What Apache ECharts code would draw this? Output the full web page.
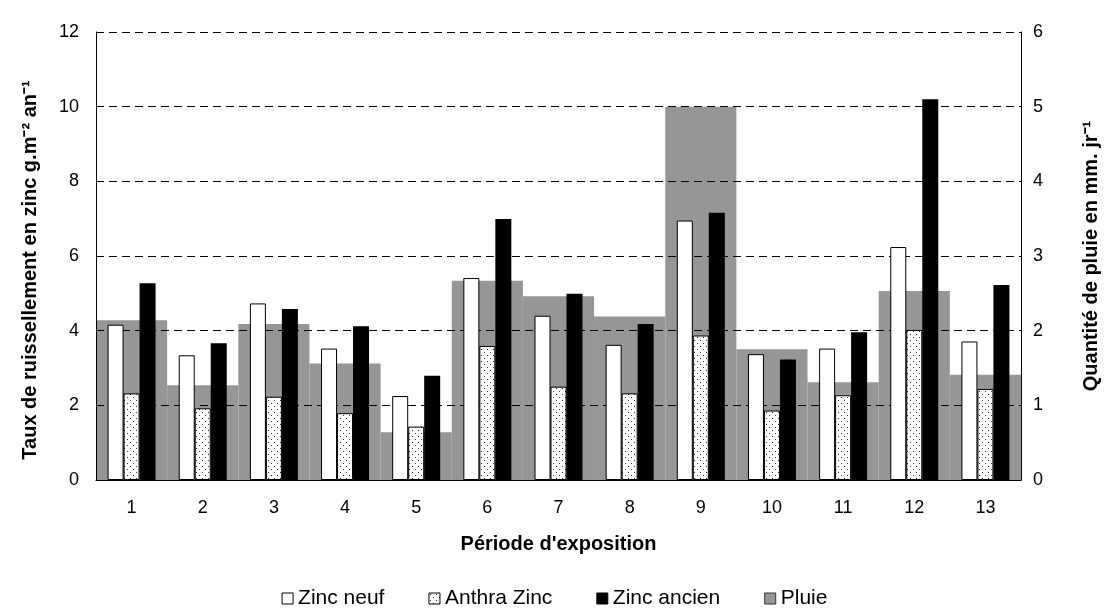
<!DOCTYPE html>
<html>
<head>
<meta charset="utf-8">
<script src="https://cdn.jsdelivr.net/npm/echarts@6/dist/echarts.min.js"></script>
<style>
html, body { margin: 0; padding: 0; background: #fff; }
#chart { width: 1109px; height: 610px; }
</style>
</head>
<body>
<div id="chart"></div>
<script>
// periodes d'exposition
var periodes = ['1', '2', '3', '4', '5', '6', '7', '8', '9', '10', '11', '12', '13'];

// taux de ruissellement (g.m-2 an-1)
var zincNeuf   = [4.16, 3.34, 4.73, 3.52, 2.25, 5.41, 4.40, 3.62, 6.95, 3.37, 3.52, 6.24, 3.71];
var anthraZinc = [2.32, 1.92, 2.23, 1.79, 1.43, 3.59, 2.50, 2.32, 3.87, 1.86, 2.27, 4.02, 2.44];
var zincAncien = [5.27, 3.66, 4.58, 4.12, 2.79, 6.99, 4.99, 4.18, 7.16, 3.23, 3.96, 10.2, 5.22];

// pluie (mm.jr-1)
var pluie = [2.14, 1.27, 2.09, 1.56, 0.64, 2.67, 2.46, 2.19, 5.0, 1.75, 1.31, 2.53, 1.41];

function dotPattern() {
    var c = document.createElement('canvas');
    c.width = 6;
    c.height = 6;
    var ctx = c.getContext('2d');
    ctx.fillStyle = '#fff';
    ctx.fillRect(0, 0, 6, 6);
    ctx.fillStyle = '#333';
    ctx.fillRect(1, 1, 1, 1);
    ctx.fillRect(4, 4, 1, 1);
    return { image: c, repeat: 'repeat' };
}

window.onload = function () {
    var myChart = echarts.init(document.getElementById('chart'));
    var font = 'Liberation Sans, Arial, sans-serif';
    var pattern = dotPattern();

    var option = {
        animation: false,
        textStyle: { fontFamily: font, color: '#000' },
        grid: { left: 96, right: 84, top: 32, bottom: 130 },
        legend: {
            top: 583,
            left: 'center',
            icon: 'rect',
            itemWidth: 11,
            itemHeight: 11,
            itemGap: 44,
            textStyle: { fontSize: 21, fontFamily: font, color: '#000' },
            data: [
                { name: 'Zinc neuf', itemStyle: { color: '#fff', borderColor: '#000', borderWidth: 1 } },
                { name: 'Anthra Zinc', itemStyle: { color: pattern, borderColor: '#000', borderWidth: 1 } },
                { name: 'Zinc ancien', itemStyle: { color: '#000', borderColor: '#000', borderWidth: 1 } },
                { name: 'Pluie', itemStyle: { color: '#969696', borderColor: '#333', borderWidth: 1 } }
            ]
        },
        xAxis: [
            {
                type: 'category',
                data: periodes,
                name: "Période d'exposition",
                nameLocation: 'middle',
                nameGap: 54,
                nameTextStyle: { fontSize: 20, fontWeight: 'bold', color: '#000' },
                axisLine: { lineStyle: { color: '#000', width: 1 } },
                axisTick: { length: 6, lineStyle: { color: '#000' } },
                axisLabel: { fontSize: 18, color: '#000', margin: 19 }
            },
            {
                type: 'category',
                data: periodes,
                show: false
            }
        ],
        yAxis: [
            {
                type: 'value',
                min: 0,
                max: 12,
                interval: 2,
                z: 1,
                name: 'Taux de ruissellement en zinc g.m⁻² an⁻¹',
                nameLocation: 'middle',
                nameRotate: 90,
                nameGap: 56,
                nameTextStyle: { fontSize: 20, fontWeight: 'bold', color: '#000', padding: [0, 28, 0, 0] },
                axisLine: { show: true, lineStyle: { color: '#000' } },
                axisTick: { show: false },
                axisLabel: { fontSize: 18, color: '#000', margin: 17 },
                splitLine: { lineStyle: { color: '#000', type: [8, 5], width: 1 } }
            },
            {
                type: 'value',
                min: 0,
                max: 6,
                interval: 1,
                z: 1,
                name: 'Quantité de pluie en mm. jr⁻¹',
                nameLocation: 'middle',
                nameRotate: 90,
                nameGap: 60,
                nameTextStyle: { fontSize: 20, fontWeight: 'bold', color: '#000' },
                axisLine: { show: true, lineStyle: { color: '#000' } },
                axisTick: { show: false },
                axisLabel: { fontSize: 18, color: '#000', margin: 12 },
                splitLine: { show: false }
            }
        ],
        series: [
            {
                name: 'Pluie',
                type: 'bar',
                xAxisIndex: 1,
                yAxisIndex: 1,
                z: 0,
                barCategoryGap: '0%',
                itemStyle: { color: '#969696' },
                data: pluie
            },
            {
                name: 'Zinc neuf',
                type: 'bar',
                barWidth: 16,
                barGap: '0%',
                itemStyle: { color: '#fff', borderColor: '#000', borderWidth: 1 },
                data: zincNeuf
            },
            {
                name: 'Anthra Zinc',
                type: 'bar',
                barWidth: 16,
                barGap: '0%',
                itemStyle: { color: pattern, borderColor: '#000', borderWidth: 1 },
                data: anthraZinc
            },
            {
                name: 'Zinc ancien',
                type: 'bar',
                barWidth: 16,
                barGap: '0%',
                itemStyle: { color: '#000' },
                data: zincAncien
            }
        ]
    };

    myChart.setOption(option);
};
</script>
</body>
</html>
